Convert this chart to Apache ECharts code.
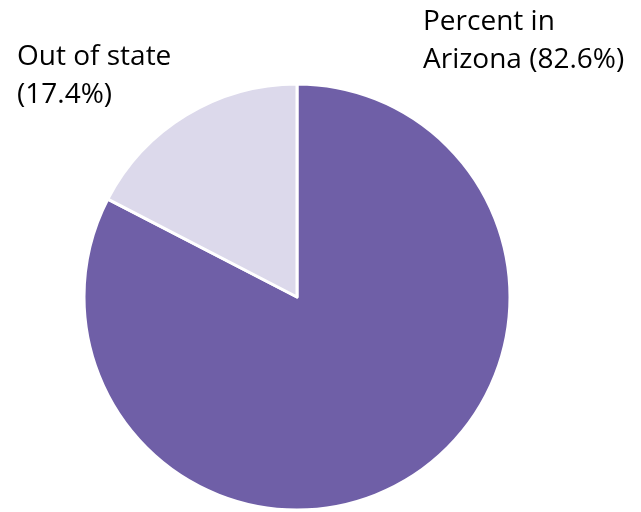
<!DOCTYPE html>
<html>
<head>
<meta charset="utf-8">
<script src="https://cdn.jsdelivr.net/npm/echarts@6/dist/echarts.min.js"></script>
<style>
  html, body { margin: 0; padding: 0; background: #fff; }
  #pie { width: 641px; height: 512px; }
</style>
</head>
<body>
<div id="pie"></div>
<script>
// 数据
const names = ['Percent in\nArizona', 'Out of state']
const values = [82.6, 17.4]
const colors = ['#6F5FA7', '#DCD9EB']
// 名称和百分比之间的分隔
const seps = [' ', '\n']
// 标签位置 (左上角)
const labelPos = [[423, 3], [17, 38]]

let chart = echarts.init(document.getElementById('pie'))
chart.setOption({
  animation: false,
  series: [
    {
      type: 'pie',
      center: [297, 297],
      radius: 213,
      startAngle: 90,
      clockwise: true,
      itemStyle: {
        borderColor: '#fff',
        borderWidth: 3,
      },
      label: {
        show: true,
        formatter: (p) => p.name + seps[p.dataIndex] + '(' + p.value + '%)',
        fontFamily: 'Open Sans',
        fontSize: 28,
        lineHeight: 38,
        color: '#000',
        align: 'left',
        overflow: 'none',
        width: 300,
      },
      labelLine: { show: false },
      labelLayout: (params) => ({
        x: labelPos[params.dataIndex][0],
        y: labelPos[params.dataIndex][1],
        align: 'left',
        verticalAlign: 'top',
      }),
      data: values.map((v, i) => ({
        name: names[i],
        value: v,
        itemStyle: { color: colors[i] },
      })),
    },
  ],
})
</script>
</body>
</html>
